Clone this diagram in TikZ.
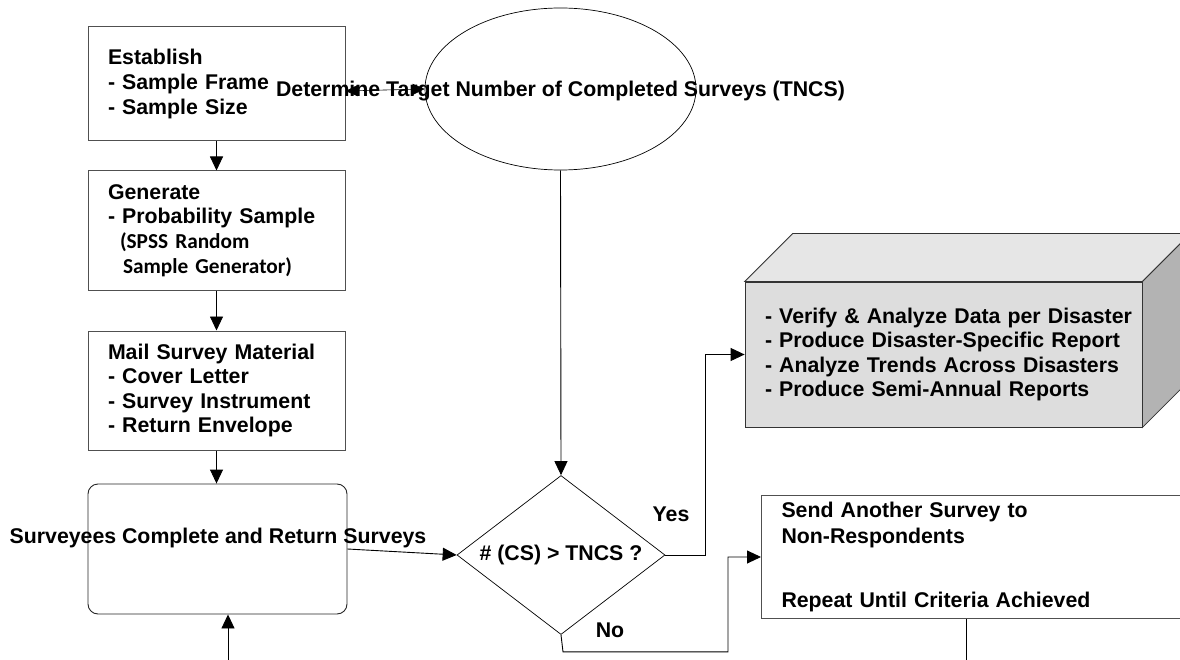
\documentclass[tikz,border=0pt]{standalone}
\usepackage{fontspec}
\setmainfont{Liberation Sans}
\newfontfamily\calfont{Carlito}
\usetikzlibrary{shapes.geometric,arrows.meta,calc}

\definecolor{boxline}{HTML}{505050}
\definecolor{frontgray}{HTML}{DDDDDD}
\definecolor{topgray}{HTML}{E6E6E6}
\definecolor{sidegray}{HTML}{B3B3B3}

\tikzset{
  every node/.style={font=\fontsize{21.3}{24.6}\selectfont\bfseries},
  box/.style={draw=boxline, line width=1pt, rectangle, align=left,
              inner xsep=20pt, inner ysep=0pt},
  arr/.style={draw=black, line width=0.9pt, -{Triangle[length=14pt,width=13pt]}},
  dblarr/.style={draw=black, line width=0.6pt,
                 {Triangle[length=12pt,width=11pt]}-{Triangle[length=12pt,width=11pt]}},
  link/.style={draw=black, line width=0.9pt},
  lbl/.style={inner sep=0pt},
  face/.style={draw=black!80, line width=0.8pt},
}

\begin{document}
\begin{tikzpicture}[x=1pt, y=-1pt]
\useasboundingbox (0,0) rectangle (1180,660);

% left column of process boxes
\node[box, text width=217pt, minimum height=114pt] (est) at (216.5,84)
  {Establish\\- Sample Frame\\- Sample Size};
\node[box, text width=217pt, minimum height=119pt] (gen) at (216.5,230.5)
  {Generate\\- Probability Sample\\\hspace*{12pt}{\calfont (SPSS Random}\\\hspace*{15pt}{\calfont Sample Generator)}};
\node[box, text width=217pt, minimum height=119pt] (mail) at (216.5,390.5)
  {Mail Survey Material\\- Cover Letter\\- Survey Instrument\\- Return Envelope};
\node[draw=black!85, line width=0.9pt, rectangle, rounded corners=10pt,
      minimum width=259pt, minimum height=130pt, inner sep=0pt] (surv) at (217.5,549) {};
\node[lbl] (survlbl) at (218,538) {Surveyees Complete and Return Surveys};

% target ellipse
\node[draw=black, line width=0.7pt, ellipse, minimum width=271pt,
      minimum height=162pt, inner sep=0pt] (tncs) at (560.5,89) {};
\node[lbl] (tncslbl) at (560.5,91) {Determine Target Number of Completed Surveys (TNCS)};

% decision
\node[draw=black, line width=0.7pt, diamond, aspect=1.31, inner sep=0pt,
      minimum width=208pt, minimum height=159pt] (dec) at (561,555) {\# (CS) > TNCS ?};
\node[lbl] (yes) at (671,514) {Yes};
\node[lbl] (no) at (610,630) {No};

% reporting block drawn as a box with depth
\node[draw=black!80, line width=0.8pt, fill=frontgray, rectangle, align=left,
      text width=357pt, inner xsep=20pt, inner ysep=0pt, minimum height=145pt] (rep) at (943.5,354.5)
  {\mbox{- Verify \& Analyze Data per Disaster}\\\mbox{- Produce Disaster-Specific Report}\\\mbox{- Analyze Trends Across Disasters}\\\mbox{- Produce Semi-Annual Reports}};
\filldraw[face, fill=topgray] (rep.north west) -- ++(48,-48)
  -- ($(rep.north east)+(48,-48)$) -- (rep.north east) -- cycle;
\filldraw[face, fill=sidegray] (rep.north east) -- ++(48,-48)
  -- ($(rep.south east)+(48,-48)$) -- (rep.south east) -- cycle;

% follow-up box
\node[box, anchor=north west, text width=399pt, minimum height=123pt,
      font=\fontsize{21.3}{25.8}\selectfont\bfseries] (send) at (761,495)
  {Send Another Survey to\\Non-Respondents\\[38.5pt]Repeat Until Criteria Achieved};

% free ends
\coordinate (loopin) at (228,660);
\coordinate (sendout) at (966,660);

% connectors
\draw[dblarr] (est.east |- tncslbl) -- (tncs.west);
\draw[arr] (est.south) -- (gen.north);
\draw[arr] (gen.south) -- (mail.north);
\draw[arr] (mail.south) -- (mail.south |- surv.north);
\draw[arr] (loopin) -- (loopin |- surv.south);
\draw[arr] (surv.east) -- (dec.west);
\draw[arr] (tncs.south) -- (dec.north);
\draw[arr] (dec.east) -- ++(40,0) |- (rep.west);
\draw[arr] (dec.south) -- ++(2,17) -| ($(send.west)+(-33,0)$) -- (send.west);
\draw[link] (sendout |- send.south) -- (sendout);
\end{tikzpicture}
\end{document}
